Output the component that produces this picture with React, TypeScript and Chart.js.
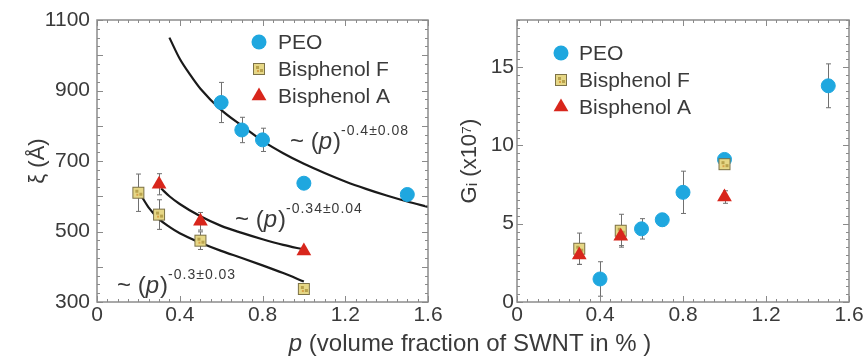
import React, { useEffect, useRef } from 'react';
import { Chart, registerables } from 'chart.js';
Chart.register(...registerables);

const FONT = '"Liberation Sans", Arial, Helvetica, sans-serif';
const TEXT = '#3a3a3a';
const CYAN = '#1fa7df';
const RED = '#d8261c';

// ---- shared
const seriesNames = ['PEO', 'Bisphenol F', 'Bisphenol A'];
const xTicks = [0, 0.4, 0.8, 1.2, 1.6];
const xiTicks = [300, 500, 700, 900, 1100];
const gTicks = [0, 5, 10, 15];

// ---- left panel: xi (Angstrom) vs p
const peoP = [0.6, 0.7, 0.8, 1.0, 1.5];
const peoXi = [866, 788, 760, 637, 605];
const peoXiErr = [57, 36, 33, 0, 0];
const bpfP = [0.2, 0.3, 0.5, 1.0];
const bpfXi = [610, 548, 474, 337];
const bpfXiErr = [53, 42, 25, 0];
const bpaP = [0.3, 0.5, 1.0];
const bpaXi = [634, 529, 445];
const bpaXiErr = [30, 25, 0];

// fitted curves
const peoFitP = [0.35, 0.4, 0.45, 0.5, 0.6, 0.7, 0.8, 0.9, 1.0, 1.1, 1.2, 1.3, 1.4, 1.5, 1.6];
const peoFitXi = [1050, 990, 945, 905, 845, 800, 757, 722, 692, 666, 642, 621, 602, 585, 570];
const bpaFitP = [0.31, 0.35, 0.4, 0.5, 0.6, 0.7, 0.8, 0.9, 1.0];
const bpaFitXi = [622, 600, 578, 543, 516, 496, 478, 462, 449];
const bpfFitP = [0.21, 0.25, 0.3, 0.35, 0.4, 0.5, 0.6, 0.7, 0.8, 0.9, 1.0];
const bpfFitXi = [605, 568, 535, 513, 495, 468, 445, 425, 404, 382, 358];

const fitLabels = [
  { base: '~ (', ital: 'p', close: ')', sup: '-0.4\u00b10.08', p: 0.933, v: 734 },
  { base: '~ (', ital: 'p', close: ')', sup: '-0.34\u00b10.04', p: 0.667, v: 514 },
  { base: '~ (', ital: 'p', close: ')', sup: '-0.3\u00b10.03', p: 0.097, v: 326 },
];

// ---- right panel: G (x10^7) vs p
const peoGP = [0.4, 0.6, 0.7, 0.8, 1.0, 1.5];
const peoG = [1.47, 4.67, 5.25, 7.0, 9.1, 13.8];
const peoGErr = [1.1, 0.65, 0.4, 1.35, 0, 1.4];
const bpfGP = [0.3, 0.5, 1.0];
const bpfG = [3.4, 4.55, 8.8];
const bpfGErr = [1.0, 1.05, 0];
const bpaGP = [0.3, 0.5, 1.0];
const bpaG = [3.0, 4.2, 6.7];
const bpaGErr = [0.6, 0.6, 0.4];

function pts(xs: number[], ys: number[]) {
  return xs.map((x, i) => ({ x, y: ys[i] }));
}

function makeSquare(): HTMLCanvasElement {
  const c = document.createElement('canvas');
  c.width = 14;
  c.height = 14;
  const g = c.getContext('2d')!;
  g.fillStyle = '#e6d786';
  g.fillRect(1, 1, 12, 12);
  g.fillStyle = '#b8a24c';
  g.fillRect(4, 4, 3, 3);
  g.fillRect(8, 7, 3, 3);
  g.fillStyle = '#d9a046';
  g.fillRect(5, 8, 2, 2);
  g.strokeStyle = '#7c7248';
  g.lineWidth = 1;
  g.strokeRect(1.5, 1.5, 11, 11);
  return c;
}

function drawTri(ctx: CanvasRenderingContext2D, x: number, y: number) {
  ctx.beginPath();
  ctx.moveTo(x, y - 8.5);
  ctx.lineTo(x + 7.4, y + 4.3);
  ctx.lineTo(x - 7.4, y + 4.3);
  ctx.closePath();
  ctx.fillStyle = RED;
  ctx.fill();
}

function makeDecor(cfg: any) {
  return {
    id: 'decor',
    beforeDatasetsDraw(chart: any) {
      const ctx = chart.ctx;
      const xs = chart.scales.x;
      const ys = chart.scales.y;
      ctx.save();
      ctx.strokeStyle = '#707070';
      ctx.lineWidth = 1;
      chart.data.datasets.forEach((ds: any) => {
        if (!ds.errs) return;
        ds.data.forEach((d: any, i: number) => {
          const e = ds.errs[i];
          if (!e) return;
          const px = Math.round(xs.getPixelForValue(d.x)) + 0.5;
          const y1 = ys.getPixelForValue(d.y + e);
          const y2 = ys.getPixelForValue(d.y - e);
          ctx.beginPath();
          ctx.moveTo(px, y1);
          ctx.lineTo(px, y2);
          ctx.moveTo(px - 2.5, y1);
          ctx.lineTo(px + 2.5, y1);
          ctx.moveTo(px - 2.5, y2);
          ctx.lineTo(px + 2.5, y2);
          ctx.stroke();
        });
      });
      ctx.restore();
    },
    afterDraw(chart: any) {
      const ctx = chart.ctx;
      const a = chart.chartArea;
      const xs = chart.scales.x;
      const ys = chart.scales.y;
      ctx.save();
      // box
      ctx.strokeStyle = '#8c8c8c';
      ctx.lineWidth = 1.5;
      ctx.strokeRect(a.left, a.top, a.right - a.left, a.bottom - a.top);
      // inner ticks
      ctx.lineWidth = 1;
      ctx.strokeStyle = '#8a8a8a';
      const nx = Math.round((xs.max - xs.min) / cfg.xMinor);
      for (let i = 0; i <= nx; i++) {
        const v = xs.min + i * cfg.xMinor;
        const major = Math.abs(v / cfg.xMajor - Math.round(v / cfg.xMajor)) < 1e-6;
        const len = major ? 6 : 3;
        const px = Math.round(xs.getPixelForValue(v)) + 0.5;
        ctx.beginPath();
        ctx.moveTo(px, a.bottom);
        ctx.lineTo(px, a.bottom - len);
        ctx.moveTo(px, a.top);
        ctx.lineTo(px, a.top + len);
        ctx.stroke();
      }
      const ny = Math.round((ys.max - ys.min) / cfg.yMinor);
      for (let i = 0; i <= ny; i++) {
        const v = ys.min + i * cfg.yMinor;
        const major = Math.abs(v / cfg.yMajor - Math.round(v / cfg.yMajor)) < 1e-6;
        const len = major ? 6 : 3;
        const py = Math.round(ys.getPixelForValue(v)) + 0.5;
        ctx.beginPath();
        ctx.moveTo(a.left, py);
        ctx.lineTo(a.left + len, py);
        ctx.moveTo(a.right, py);
        ctx.lineTo(a.right - len, py);
        ctx.stroke();
      }
      // legend
      ctx.font = `21px ${FONT}`;
      ctx.textBaseline = 'middle';
      ctx.fillStyle = TEXT;
      seriesNames.forEach((name, i) => {
        const y = cfg.legY + i * 27;
        const x = cfg.legX;
        if (i === 0) {
          ctx.beginPath();
          ctx.arc(x, y, 7.5, 0, Math.PI * 2);
          ctx.fillStyle = CYAN;
          ctx.fill();
        } else if (i === 1) {
          ctx.drawImage(cfg.square, x - 7, y - 7);
        } else {
          drawTri(ctx, x, y);
        }
        ctx.fillStyle = TEXT;
        ctx.fillText(name, cfg.legTextX, y + 1);
      });
      // fit annotations
      if (cfg.labels) {
        cfg.labels.forEach((l: any) => {
          let x = xs.getPixelForValue(l.p);
          const y = ys.getPixelForValue(l.v);
          ctx.textBaseline = 'alphabetic';
          ctx.fillStyle = TEXT;
          ctx.font = `24px ${FONT}`;
          ctx.fillText(l.base, x, y);
          x += ctx.measureText(l.base).width;
          ctx.font = `italic 24px ${FONT}`;
          ctx.fillText(l.ital, x, y);
          x += ctx.measureText(l.ital).width + 1;
          ctx.font = `24px ${FONT}`;
          ctx.fillText(l.close, x, y);
          x += ctx.measureText(l.close).width;
          ctx.font = `14px ${FONT}`;
          (ctx as any).letterSpacing = '1px';
          ctx.fillText(l.sup, x, y - 14);
          (ctx as any).letterSpacing = '0px';
        });
      }
      ctx.restore();
    },
  };
}

function xScale(padding: number) {
  return {
    type: 'linear',
    min: 0,
    max: 1.6,
    afterBuildTicks: (s: any) => {
      s.ticks = xTicks.map((v) => ({ value: v }));
    },
    afterFit: (s: any) => {
      s.height = 60;
    },
    grid: { display: false, drawTicks: false },
    border: { display: false },
    ticks: {
      padding,
      color: TEXT,
      font: { family: FONT, size: 21 },
      maxRotation: 0,
      autoSkip: false,
      callback: (v: any) => (v === 0 ? '0' : Number(v).toFixed(1)),
    },
  };
}

function yScale(min: number, max: number, ticks: number[], width: number, padding: number, title: string, titlePad: number) {
  return {
    type: 'linear',
    min,
    max,
    afterBuildTicks: (s: any) => {
      s.ticks = ticks.map((v) => ({ value: v }));
    },
    afterFit: (s: any) => {
      s.width = width;
    },
    grid: { display: false, drawTicks: false },
    border: { display: false },
    ticks: {
      padding,
      color: TEXT,
      font: { family: FONT, size: 21 },
      autoSkip: false,
      callback: (v: any) => String(v),
    },
    title: {
      display: true,
      text: title,
      color: TEXT,
      font: { family: FONT, size: 22 },
      padding: { top: titlePad, bottom: 0 },
    },
  };
}

function pointDs(label: string, data: any[], errs: number[], kind: number, square: HTMLCanvasElement, order: number) {
  const base: any = { label, data, errs, showLine: false, order };
  if (kind === 0) {
    return { ...base, pointStyle: 'circle', pointRadius: 7, backgroundColor: CYAN, borderColor: CYAN, borderWidth: 1 };
  }
  if (kind === 1) {
    return { ...base, pointStyle: square, pointRadius: 7, backgroundColor: '#e6d786', borderColor: '#7c7248' };
  }
  return { ...base, pointStyle: 'triangle', pointRadius: 8.5, backgroundColor: RED, borderColor: RED, borderWidth: 0 };
}

function fitDs(data: any[]) {
  return {
    label: 'fit',
    data,
    showLine: true,
    pointRadius: 0,
    borderColor: '#1a1a1a',
    borderWidth: 2.2,
    tension: 0.4,
    cubicInterpolationMode: 'monotone',
    order: 5,
  };
}

export default function App() {
  const leftRef = useRef<HTMLCanvasElement>(null);
  const rightRef = useRef<HTMLCanvasElement>(null);

  useEffect(() => {
    const square = makeSquare();
    const common = {
      animation: false,
      responsive: false,
      maintainAspectRatio: false,
      events: [],
      plugins: { legend: { display: false }, tooltip: { enabled: false } },
    };
    const left = new Chart(leftRef.current!, {
      type: 'scatter',
      data: {
        datasets: [
          fitDs(pts(peoFitP, peoFitXi)),
          fitDs(pts(bpaFitP, bpaFitXi)),
          fitDs(pts(bpfFitP, bpfFitXi)),
          pointDs('PEO', pts(peoP, peoXi), peoXiErr, 0, square, 3),
          pointDs('Bisphenol F', pts(bpfP, bpfXi), bpfXiErr, 1, square, 2),
          pointDs('Bisphenol A', pts(bpaP, bpaXi), bpaXiErr, 2, square, 1),
        ] as any,
      },
      options: {
        ...common,
        layout: { autoPadding: false, padding: { left: 0, top: 20, right: 32, bottom: 0 } },
        scales: {
          x: xScale(1) as any,
          y: yScale(300, 1100, xiTicks, 97, 7, '\u03be (\u00c5)', 25) as any,
        },
      } as any,
      plugins: [
        makeDecor({ xMinor: 0.05, xMajor: 0.4, yMinor: 25, yMajor: 100, legX: 259, legY: 42, legTextX: 278, square, labels: fitLabels }),
      ],
    });
    const right = new Chart(rightRef.current!, {
      type: 'scatter',
      data: {
        datasets: [
          pointDs('PEO', pts(peoGP, peoG), peoGErr, 0, square, 3),
          pointDs('Bisphenol F', pts(bpfGP, bpfG), bpfGErr, 1, square, 2),
          pointDs('Bisphenol A', pts(bpaGP, bpaG), bpaGErr, 2, square, 1),
        ] as any,
      },
      options: {
        ...common,
        layout: { autoPadding: false, padding: { left: 0, top: 20, right: 19, bottom: 0 } },
        scales: {
          x: xScale(1) as any,
          y: yScale(0, 18, gTicks, 77, 3, 'G\u1d62 (x10\u2077)', 17) as any,
        },
      } as any,
      plugins: [
        makeDecor({ xMinor: 0.05, xMajor: 0.4, yMinor: 0.5, yMajor: 5, legX: 121, legY: 53, legTextX: 139, square, labels: null }),
      ],
    });
    return () => {
      left.destroy();
      right.destroy();
    };
  }, []);

  return (
    <div style={{ position: 'absolute', left: 0, top: 0, width: 868, height: 362, background: '#fff', overflow: 'hidden' }}>
      <canvas ref={leftRef} width={460} height={362} style={{ position: 'absolute', left: 0, top: 0, width: 460, height: 362 }} />
      <canvas ref={rightRef} width={428} height={362} style={{ position: 'absolute', left: 440, top: 0, width: 428, height: 362 }} />
      <div
        style={{
          position: 'absolute',
          left: 0,
          width: 940,
          top: 328,
          textAlign: 'center',
          fontFamily: FONT,
          fontSize: 24,
          color: TEXT,
          whiteSpace: 'nowrap',
          lineHeight: '30px',
        }}
      >
        <i>p</i> (volume fraction of SWNT in % )
      </div>
    </div>
  );
}
